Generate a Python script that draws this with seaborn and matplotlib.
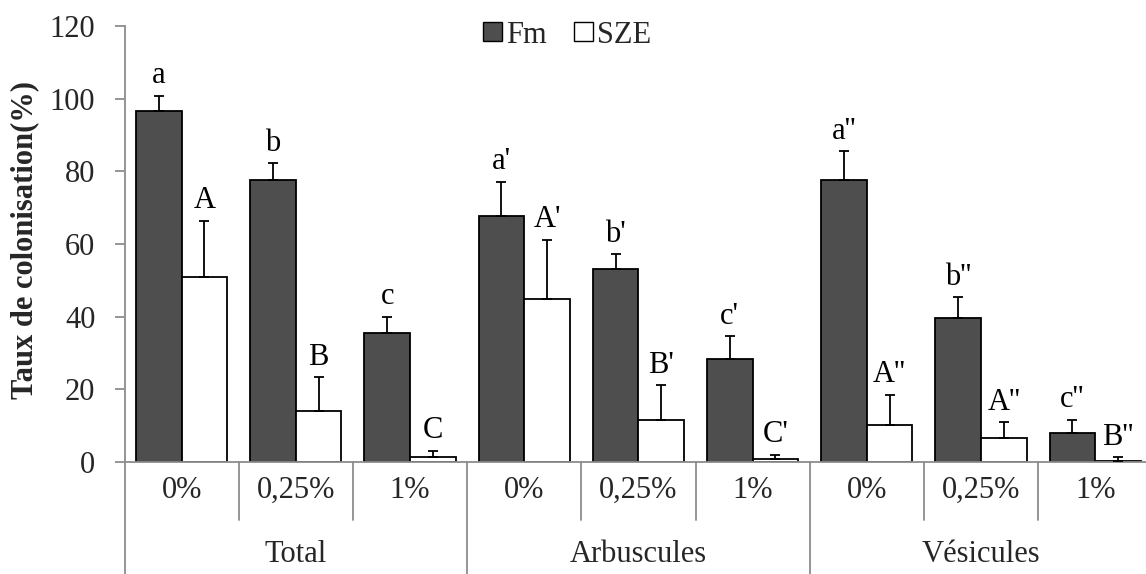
import numpy as np
import pandas as pd
import matplotlib
matplotlib.use("Agg")
import matplotlib.pyplot as plt
from matplotlib.patches import Patch
from matplotlib.transforms import blended_transform_factory
import seaborn as sns

# ---- data -------------------------------------------------------------
groups = ["Total", "Arbuscules", "Vésicules"]
doses = ["0%", "0,25%", "1%"]
series = ["Fm", "SZE"]

fm_mean = [96.7, 77.5, 35.6, 67.7, 53.0, 28.4, 77.5, 39.5, 7.9]
fm_err = [4.1, 4.7, 4.4, 9.5, 4.2, 6.2, 8.1, 5.9, 3.7]
sze_mean = [50.8, 14.1, 1.3, 44.9, 11.6, 0.7, 10.2, 6.5, 0.4]
sze_err = [15.6, 9.3, 1.8, 16.3, 9.5, 1.3, 8.3, 4.5, 0.9]

fm_letters = ["a", "b", "c", "a'", "b'", "c'", "a''", "b''", "c''"]
sze_letters = ["A", "B", "C", "A'", "B'", "C'", "A''", "A''", "B''"]

y_ticks = [0, 20, 40, 60, 80, 100, 120]

# ---- long table for seaborn --------------------------------------------
cats = [f"{g}|{d}" for g in groups for d in doses]
df = pd.DataFrame({
    "cat": cats * 2,
    "serie": ["Fm"] * len(cats) + ["SZE"] * len(cats),
    "val": fm_mean + sze_mean,
})

sns.set_style("white")
plt.rcParams["font.family"] = ["Liberation Serif", "DejaVu Serif"]

FS = 22
GREY = "#8c8c8c"
DARK = "#4e4e4e"

fig = plt.figure(figsize=(11.46, 5.74), dpi=100)
ax = fig.add_axes([124.5 / 1146, 112 / 574, (1146 - 124.5) / 1146, 436 / 574])

sns.barplot(data=df, x="cat", y="val", hue="serie", order=cats,
            hue_order=series, palette={"Fm": DARK, "SZE": "white"},
            edgecolor="black", linewidth=1.3, errorbar=None, gap=0,
            legend=False, ax=ax, zorder=2)

errs = {"Fm": fm_err, "SZE": sze_err}
letters = {"Fm": fm_letters, "SZE": sze_letters}
for cont, name in zip(ax.containers, series):
    xs = np.array([b.get_x() + b.get_width() / 2 for b in cont])
    hs = np.array([b.get_height() for b in cont])
    e = np.array(errs[name])
    ax.errorbar(xs, hs, yerr=[np.zeros_like(e), e], fmt="none",
                ecolor="black", elinewidth=1.3, capsize=3.5, capthick=1.3,
                zorder=3)
    for x, top, lab in zip(xs, hs + e, letters[name]):
        ax.text(x, top + 1.5, lab, ha="center", va="bottom", fontsize=FS,
                color="black", zorder=4)

ax.set_ylim(0, 120)
ax.set_xlim(-0.5, -0.5 + (1146 - 124.5) / 114.2)
ax.set_yticks(y_ticks)
ax.set_yticklabels([str(t) for t in y_ticks], fontsize=FS)
ax.tick_params(axis="y", direction="out", length=7, width=1.3, color=GREY,
               pad=14, left=True)
ax.set_xticks([])
ax.set_xlabel("")
ax.set_ylabel("")

for s in ["top", "right"]:
    ax.spines[s].set_visible(False)
for s in ["left", "bottom"]:
    ax.spines[s].set_color(GREY)
    ax.spines[s].set_linewidth(1.3)

# ---- two-level category axis ----------------------------------------------
tr = blended_transform_factory(ax.transData, ax.transAxes)
y_short = -58 / 436
y_long = -114 / 436
for i in range(len(cats) + 1):
    xb = i - 0.5
    yb = y_long if i % 3 == 0 else y_short
    ax.plot([xb, xb], [0, yb], transform=tr, color=GREY, lw=1.3,
            clip_on=False, zorder=1)

for i, c in enumerate(cats):
    ax.text(i, -28 / 436, c.split("|")[1], transform=tr, ha="center",
            va="center", fontsize=FS)
for j, g in enumerate(groups):
    ax.text(3 * j + 1, -92 / 436, g, transform=tr, ha="center",
            va="center", fontsize=FS)

# ---- y label and legend ----------------------------------------------------
fig.text(25 / 1146, 1 - 240 / 574, "Taux de colonisation(%)", rotation=90,
         ha="center", va="center", fontsize=FS, fontweight="bold")

handles = [Patch(facecolor=DARK, edgecolor="black", linewidth=1.0),
           Patch(facecolor="white", edgecolor="black", linewidth=1.0)]
fig.legend(handles, series, loc="center", bbox_to_anchor=(0.495, 0.939),
           ncol=2, frameon=False, fontsize=FS, handlelength=0.6,
           handleheight=0.6, handletextpad=0.15, columnspacing=0.9)

fig.savefig("out.png", dpi=100, facecolor="white")
